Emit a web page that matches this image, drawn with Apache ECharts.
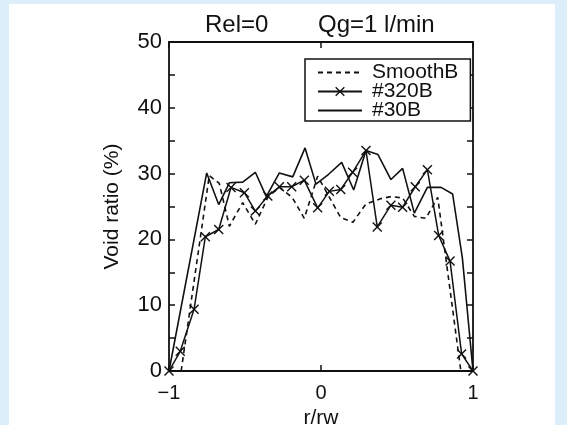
<!DOCTYPE html>
<html>
<head>
<meta charset="utf-8">
<script src="https://cdn.jsdelivr.net/npm/echarts@6/dist/echarts.min.js"></script>
<style>
html,body{margin:0;padding:0;}
body{width:567px;height:425px;background:#ddeefb;position:relative;overflow:hidden;}
#bg{position:absolute;left:9px;top:4px;width:546px;height:421px;background:#fff;}
#chart{position:absolute;left:0;top:0;width:567px;height:425px;}
</style>
</head>
<body>
<div id="bg"></div>
<div id="chart"></div>
<script>
// r/rw positions and void ratio (%) values
const xTicks = [-1, 0, 1];
const yTicks = [0, 10, 20, 30, 40, 50];

const smoothR = [-0.92, -0.735, -0.669, -0.603, -0.515, -0.432, -0.35, -0.274, -0.19, -0.11, -0.022, 0.13, 0.21, 0.296, 0.395, 0.46, 0.537, 0.614, 0.69, 0.768, 0.92];
const smoothV = [0, 29.7, 28.5, 22.0, 25.6, 22.3, 26.4, 27.9, 26.4, 23.2, 29.6, 23.3, 22.6, 25.4, 26.2, 26.5, 26.3, 23.5, 23.2, 26.4, 0];

const b320R = [-1, -0.926, -0.835, -0.761, -0.673, -0.592, -0.504, -0.432, -0.35, -0.274, -0.193, -0.11, -0.022, 0.055, 0.13, 0.208, 0.296, 0.37, 0.46, 0.537, 0.62, 0.70, 0.774, 0.849, 0.925, 1.0];
const b320V = [0, 3.0, 9.4, 20.4, 21.5, 27.9, 27.1, 24.3, 26.6, 28.0, 28.0, 29.0, 24.8, 27.3, 27.6, 30.2, 33.5, 21.9, 25.2, 24.9, 28.0, 30.6, 20.6, 16.7, 2.6, 0];

const b30R = [-1, -0.752, -0.673, -0.603, -0.515, -0.432, -0.36, -0.274, -0.186, -0.105, -0.033, 0.05, 0.136, 0.215, 0.296, 0.375, 0.46, 0.537, 0.614, 0.70, 0.79, 0.866, 0.93, 1.0];
const b30V = [0, 30.1, 25.3, 28.6, 28.7, 30.2, 26.5, 30.1, 29.5, 33.9, 28.4, 29.9, 31.7, 27.5, 33.5, 32.9, 29.1, 30.8, 24.0, 27.9, 27.9, 26.9, 17.2, 0];

const seriesNames = ['SmoothB', '#320B', '#30B'];

function pairs(xs, ys) { return xs.map((x, i) => [x, ys[i]]); }

const FONT = 'Liberation Sans';
const INK = '#111';
const X_SYMBOL = 'path://M0,1 L1,0 L5,4 L9,0 L10,1 L6,5 L10,9 L9,10 L5,6 L1,10 L0,9 L4,5 Z';

const chart = echarts.init(document.getElementById('chart'), null, {renderer: 'canvas'});
chart.setOption({
  backgroundColor: 'transparent',
  animation: false,
  textStyle: {fontFamily: FONT, color: INK},
  title: [
    {text: 'Rel=0', left: 205, top: 13, padding: 0, textStyle: {fontFamily: FONT, fontSize: 24, fontWeight: 'normal', color: INK}},
    {text: 'Qg=1 l/min', left: 318, top: 13, padding: 0, textStyle: {fontFamily: FONT, fontSize: 24, fontWeight: 'normal', color: INK}}
  ],
  legend: {
    orient: 'vertical',
    left: 305, top: 59,
    padding: [3, 12, 0, 12],
    itemGap: -2,
    itemWidth: 44,
    itemHeight: 12,
    borderColor: INK,
    borderWidth: 1.5,
    backgroundColor: '#fff',
    textStyle: {fontFamily: FONT, fontSize: 21, color: INK, padding: [0, 0, 0, 5]},
    data: [
      {name: seriesNames[0], itemStyle: {opacity: 0}},
      {name: seriesNames[1]},
      {name: seriesNames[2], itemStyle: {opacity: 0}}
    ]
  },
  grid: {left: 169, right: 94, top: 42, bottom: 54, containLabel: false, outerBoundsMode: 'none'},
  xAxis: [
    {
      type: 'value', min: -1, max: 1, interval: 1, position: 'bottom',
      name: 'r/rw', nameLocation: 'middle', nameGap: 35,
      nameTextStyle: {fontFamily: FONT, fontSize: 21, color: INK},
      axisLine: {show: true, onZero: false, lineStyle: {color: INK, width: 1.8}},
      axisTick: {show: true, inside: true, length: 6, lineStyle: {color: INK, width: 1.5}},
      axisLabel: {fontFamily: FONT, fontSize: 20, color: INK, margin: 12,
        formatter: v => (xTicks.includes(v) ? (v < 0 ? '\u2212' + Math.abs(v) : String(v)) : '')},
      splitLine: {show: false}
    },
    {
      type: 'value', min: -1, max: 1, interval: 1, position: 'top',
      axisLine: {show: true, onZero: false, lineStyle: {color: INK, width: 1.8}},
      axisTick: {show: true, inside: true, length: 6, lineStyle: {color: INK, width: 1.5}},
      axisLabel: {show: false},
      splitLine: {show: false}
    }
  ],
  yAxis: [
    {
      type: 'value', min: 0, max: 50, interval: 10, position: 'left',
      name: 'Void ratio (%)', nameLocation: 'middle', nameGap: 46, nameRotate: 90,
      nameTextStyle: {fontFamily: FONT, fontSize: 21, color: INK},
      axisLine: {show: true, onZero: false, lineStyle: {color: INK, width: 1.8}},
      axisTick: {show: true, inside: true, length: 6, lineStyle: {color: INK, width: 1.5}},
      minorTick: {show: true, splitNumber: 2, length: 6, lineStyle: {color: INK, width: 1.5}},
      axisLabel: {fontFamily: FONT, fontSize: 22, color: INK, margin: 7,
        formatter: v => (yTicks.includes(v) ? String(v) : '')},
      splitLine: {show: false}
    },
    {
      type: 'value', min: 0, max: 50, interval: 10, position: 'right',
      axisLine: {show: true, onZero: false, lineStyle: {color: INK, width: 1.8}},
      axisTick: {show: true, inside: true, length: 6, lineStyle: {color: INK, width: 1.5}},
      minorTick: {show: true, splitNumber: 2, length: 6, lineStyle: {color: INK, width: 1.5}},
      axisLabel: {show: false},
      splitLine: {show: false}
    }
  ],
  series: [
    {
      name: seriesNames[0], type: 'line', data: pairs(smoothR, smoothV),
      symbol: 'none', color: INK,
      lineStyle: {color: INK, width: 1.6, type: [5, 4]}
    },
    {
      name: seriesNames[1], type: 'line', data: pairs(b320R, b320V),
      symbol: X_SYMBOL, symbolSize: 10, showSymbol: true, color: INK,
      itemStyle: {color: INK},
      lineStyle: {color: INK, width: 1.5}
    },
    {
      name: seriesNames[2], type: 'line', data: pairs(b30R, b30V),
      symbol: 'none', color: INK,
      lineStyle: {color: INK, width: 1.6}
    }
  ]
});
</script>
</body>
</html>
